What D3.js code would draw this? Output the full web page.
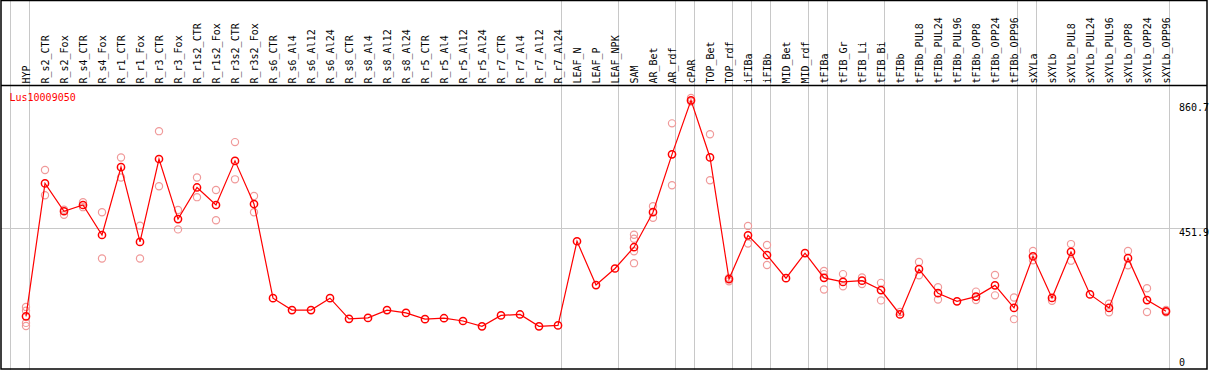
<!DOCTYPE html>
<html lang="en">
<head>
    <meta charset="UTF-8">
    <title>Lus10009050</title>
    <script src="https://cdn.jsdelivr.net/npm/d3@7/dist/d3.min.js"></script>
    <style>
        body { margin: 0; background: #fff; }
        text { font-family: "DejaVu Sans Mono", monospace; font-size: 10px; }
        .grid { stroke: #c8c8c8; stroke-width: 1; shape-rendering: crispEdges; }
        .rep { fill: none; stroke: #f09a9a; stroke-width: 1.2; }
        .mean { fill: none; stroke: #ff0000; stroke-width: 1.5; }
    </style>
</head>
<body>
<script>
    // samples along the top
    const categories = ['HYP', 'R_s2_CTR', 'R_s2_Fox', 'R_s4_CTR', 'R_s4_Fox', 'R_r1_CTR', 'R_r1_Fox',
        'R_r3_CTR', 'R_r3_Fox', 'R_r1s2_CTR', 'R_r1s2_Fox', 'R_r3s2_CTR', 'R_r3s2_Fox',
        'R_s6_CTR', 'R_s6_Al4', 'R_s6_Al12', 'R_s6_Al24', 'R_s8_CTR', 'R_s8_Al4', 'R_s8_Al12', 'R_s8_Al24',
        'R_r5_CTR', 'R_r5_Al4', 'R_r5_Al12', 'R_r5_Al24', 'R_r7_CTR', 'R_r7_Al4', 'R_r7_Al12', 'R_r7_Al24',
        'LEAF_N', 'LEAF_P', 'LEAF_NPK', 'SAM', 'AR_Bet', 'AR_rdf', 'cPAR', 'TOP_Bet', 'TOP_rdf',
        'iFIBa', 'iFIBb', 'MID_Bet', 'MID_rdf', 'tFIBa', 'tFIB_Gr', 'tFIB_Li', 'tFIB_Bi', 'tFIBb',
        'tFIBb_PUL8', 'tFIBb_PUL24', 'tFIBb_PUL96', 'tFIBb_OPP8', 'tFIBb_OPP24', 'tFIBb_OPP96',
        'sXYLa', 'sXYLb', 'sXYLb_PUL8', 'sXYLb_PUL24', 'sXYLb_PUL96', 'sXYLb_OPP8', 'sXYLb_OPP24', 'sXYLb_OPP96'];

    // mean expression per sample
    const means = [170, 595, 506, 526, 430, 647, 408, 673, 481, 582, 526, 667, 529,
        228, 190, 190, 228, 162, 165, 190, 181,
        161, 164, 155, 138, 173, 176, 138, 141,
        410, 270, 323, 391, 503, 688, 860.7, 678, 289,
        429, 366, 292, 372, 293, 280, 284, 254, 176,
        321, 244, 218, 233, 269, 197,
        362, 229, 376, 240, 197, 356, 222, 186];

    // single replicates per sample
    const replicates = [[200, 188, 149, 139], [638, 557], [511, 495], [535, 519], [503, 355], [678, 614],
        [460, 355], [762, 586], [510, 448], [614, 551], [574, 477], [727, 608], [555, 503],
        [], [], [], [], [], [], [], [],
        [], [], [], [], [], [], [], [],
        [], [], [], [431, 418, 378, 340], [522, 485], [787, 589], [868, 857], [752, 605], [282, 293],
        [459, 403], [398, 334], [], [], [315, 256, 305], [305, 266], [294, 273], [277, 221], [184],
        [344, 301], [263, 224], [], [249, 222], [302, 237], [230, 161],
        [379, 349], [220], [401, 348], [], [210, 183], [379, 333], [260, 184], [190, 183]];

    // last sample of each group gets a separator
    const groupEnds = ['HYP', 'R_r7_Al24', 'LEAF_NPK', 'AR_rdf', 'cPAR', 'TOP_rdf', 'iFIBa', 'iFIBb',
        'MID_rdf', 'tFIBa', 'tFIB_Bi', 'tFIBb_OPP96', 'sXYLa', 'sXYLb_OPP96'];

    const yTicks = [0, 451.9, 860.7];
    const gene = 'Lus10009050';

    const width = 1209, height = 370;
    const headerY = 85.5, bottomY = 369.5;

    const svg = d3.select('body').append('svg').attr('width', width).attr('height', height);

    // columns 19px wide, point sits near the right of its column
    const x = d3.scaleBand().domain(categories).range([11, 11 + 19 * categories.length]);
    const px = d => x(d) + 15;
    const y = d3.scaleLinear().domain([0, 860.7]).range([bottomY, 100.3]);

    // vertical separators
    const sepX = [x(categories[0])].concat(groupEnds.map(c => x(c) + x.bandwidth()));
    svg.append('g').selectAll('line')
        .data(sepX)
        .enter()
        .append('line')
        .attr('class', 'grid')
        .attr('x1', d => Math.round(d) - 0.5).attr('x2', d => Math.round(d) - 0.5)
        .attr('y1', 0).attr('y2', height);

    // horizontal grid only for the middle tick
    svg.append('line')
        .attr('class', 'grid')
        .attr('x1', 1).attr('x2', 1207)
        .attr('y1', Math.round(y(451.9)) + 0.5).attr('y2', Math.round(y(451.9)) + 0.5);

    // sample labels, rotated
    svg.append('g').selectAll('text')
        .data(categories)
        .enter()
        .append('text')
        .attr('transform', d => 'translate(' + (px(d) + 4) + ',83.5) rotate(-90)')
        .attr('fill', '#000')
        .text(d => d);

    // y tick labels on the right
    svg.append('g').selectAll('text')
        .data(yTicks)
        .enter()
        .append('text')
        .attr('x', 1179)
        .attr('y', d => Math.max(110.5, Math.min(366, y(d) + 8)))
        .attr('fill', '#000')
        .text(d => d);

    // replicate points
    const reps = [];
    replicates.forEach((r, i) => r.forEach(v => reps.push({c: categories[i], v: v})));
    svg.append('g').selectAll('circle')
        .data(reps)
        .enter()
        .append('circle')
        .attr('class', 'rep')
        .attr('cx', d => px(d.c))
        .attr('cy', d => y(d.v))
        .attr('r', 3.6);

    // mean line and points
    const meanData = categories.map((c, i) => ({c: c, v: means[i]}));
    svg.append('path')
        .datum(meanData)
        .attr('fill', 'none')
        .attr('stroke', '#ff0000')
        .attr('stroke-width', 1.2)
        .attr('d', d3.line().x(d => px(d.c)).y(d => y(d.v)));

    svg.append('g').selectAll('circle')
        .data(meanData)
        .enter()
        .append('circle')
        .attr('class', 'mean')
        .attr('cx', d => px(d.c))
        .attr('cy', d => y(d.v))
        .attr('r', 3.6);

    svg.append('text')
        .attr('x', 9.5)
        .attr('y', 100.5)
        .attr('fill', '#ff0000')
        .text(gene);

    // frame and header rule
    svg.append('rect')
        .attr('x', 1).attr('y', 0.5)
        .attr('width', 1206).attr('height', 368.5)
        .attr('fill', 'none').attr('stroke', '#000').attr('stroke-width', 1.5);
    svg.append('line')
        .attr('x1', 1).attr('x2', 1207)
        .attr('y1', headerY).attr('y2', headerY)
        .attr('stroke', '#000').attr('stroke-width', 1.5);
</script>
</body>
</html>
